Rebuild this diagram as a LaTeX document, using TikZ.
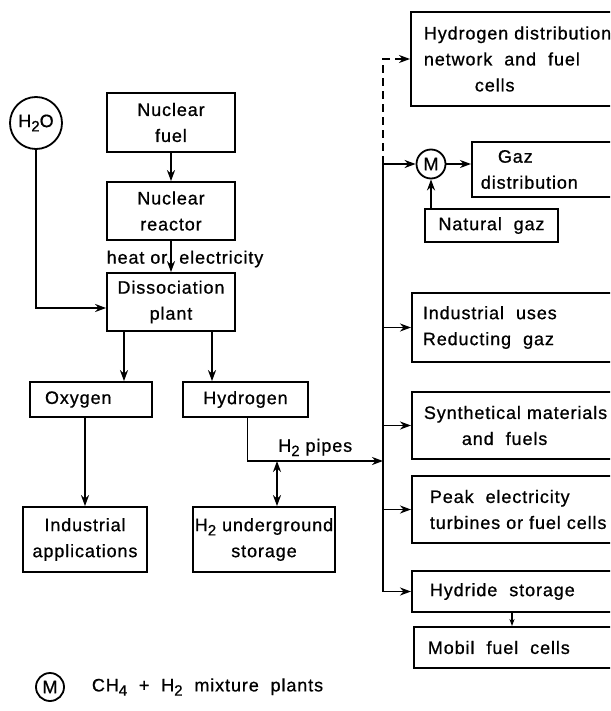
\documentclass[tikz,border=0pt]{standalone}
\usepackage{fontspec}
\setmainfont{Liberation Sans}[LetterSpace=5, FakeBold=0.8]
\usetikzlibrary{arrows.meta}
\newcommand{\dn}[1]{\raisebox{-0.45ex}{\fontsize{15}{15}\selectfont #1}}

\begin{document}
\begin{tikzpicture}[
	x=1pt, y=-1pt,
	line width=1.8pt,
	box/.style={
		rectangle,
		draw=black,
		line width=1.8pt,
		align=center,
		inner sep=0pt,
		font=\fontsize{18}{26}\selectfont
	},
	rbox/.style={box, align=left, anchor=west, inner xsep=13pt, text width=200pt},
	ring/.style={circle, draw=black, line width=1.8pt, inner sep=0pt, font=\fontsize{18}{18}\selectfont},
	arrow/.style={-{Stealth[length=11pt,width=8pt,inset=3.5pt]}},
	dblarrow/.style={{Stealth[length=11pt,width=8pt,inset=3.5pt]}-{Stealth[length=11pt,width=8pt,inset=3.5pt]}},
	label/.style={font=\fontsize{18}{18}\selectfont, inner sep=1pt}
]
\useasboundingbox (0,0) rectangle (610,711);
\clip (0,0) rectangle (610,711);

% Nuclear part
\node[ring, minimum size=52pt] (h2o) at (36,123) {H\dn{2}O};
\node[box, minimum width=128pt, minimum height=59pt] (fuel) at (171,122.5) {Nuclear\\fuel};
\node[box, minimum width=128pt, minimum height=58pt] (reactor) at (171,211) {Nuclear\\reactor};
\node[box, minimum width=128pt, minimum height=58pt] (dissoc) at (171,302) {Dissociation\\plant};

% Products
\node[box, align=left, text width=92pt, inner xsep=15pt, minimum height=35pt] (oxygen) at (91,399.5) {Oxygen};
\node[box, minimum width=125pt, minimum height=35pt] (hydrogen) at (245.5,399.5) {Hydrogen};
\node[box, minimum width=124pt, minimum height=65pt] (indapp) at (85,539.5) {Industrial\\applications};
\node[box, minimum width=142pt, minimum height=65pt] (storage) at (264,539.5) {H\dn{2} underground\\storage};

% Uses of hydrogen
\node[rbox, minimum height=94pt] (hdist) at (410,59) {Hydrogen distribution\\network\ \ and\ \ fuel\\\hspace*{51pt}cells};
\node[ring, minimum size=29pt] (mix) at (431,164) {M};
\node[rbox, text width=125pt, inner xsep=9pt, minimum height=55pt] (gazdist) at (471,169.5) {\hspace*{17pt}Gaz\\distribution};
\node[box, minimum width=133pt, minimum height=33pt] (natgaz) at (491.5,225.5) {Natural\ \ gaz};
\node[rbox, inner xsep=11pt, minimum height=69pt] (induses) at (411,327.5) {Industrial\ \ uses\\Reducting\ \ gaz};
\node[rbox, inner xsep=12pt, minimum height=67pt] (synth) at (411,425.5) {Synthetical materials\\\hspace*{38pt}and\ \ fuels};
\node[rbox, inner xsep=18pt, minimum height=67pt] (peak) at (411,509.5) {Peak\ \ electricity\\turbines or fuel cells};
\node[rbox, inner xsep=18pt, minimum height=41pt] (hydride) at (411,591.5) {Hydride\ \ storage};
\node[rbox, inner xsep=14pt, minimum height=41pt] (mobil) at (413,647.5) {Mobil\ \ fuel\ \ cells};

% Legend
\node[ring, minimum size=28pt] (legm) at (50,687) {M};
\node[label, anchor=west] (legtxt) at (90,687) {CH\dn{4}\ \ +\ \ H\dn{2}\ \ mixture\ \ plants};

% Connections
\draw[arrow] (fuel) -- (reactor);
\draw[arrow] (reactor) -- (dissoc);
\node[label] (heat) at (185,259) {heat or\hspace{12pt}electricity};
\draw[arrow] (h2o) |- ([yshift=-6pt]dissoc.west);
\coordinate (oxin) at ([xshift=-47pt]dissoc.south);
\coordinate (hyin) at ([xshift=41pt]dissoc.south);
\draw[arrow] (oxin) -- (oxin |- oxygen.north);
\draw[arrow] (hyin) -- (hyin |- hydrogen.north);
\draw[arrow] (indapp.north |- oxygen.south) -- (indapp.north);

% H2 pipes and bus
\coordinate (busM) at (383,164);
\coordinate (pipe) at (383,461);
\draw[arrow] ([xshift=2pt]hydrogen.south) |- (pipe) node[label, pos=0.75, above=3pt] (pipes) {H\dn{2} pipes};
\coordinate (stor) at ([xshift=13pt]storage.north);
\draw[dblarrow] (stor |- pipe) -- (stor);
\draw[arrow, dash pattern=on 8pt off 5pt] (busM) |- (hdist.west);
\draw (busM) -- (busM |- hydride.west);
\draw[arrow] (busM) -- (mix.west);
\draw[arrow] (mix.east) -- (mix.east -| gazdist.west);
\draw[arrow] (mix.south |- natgaz.north) -- (mix.south);
\foreach \b in {induses, synth, peak, hydride}
	\draw[arrow] (busM |- \b.west) -- (\b.west);
\draw[-{Stealth[length=7pt,width=5pt,inset=2pt]}] (hydride.south -| 512,0) -- (mobil.north -| 512,0);

\end{tikzpicture}
\end{document}
